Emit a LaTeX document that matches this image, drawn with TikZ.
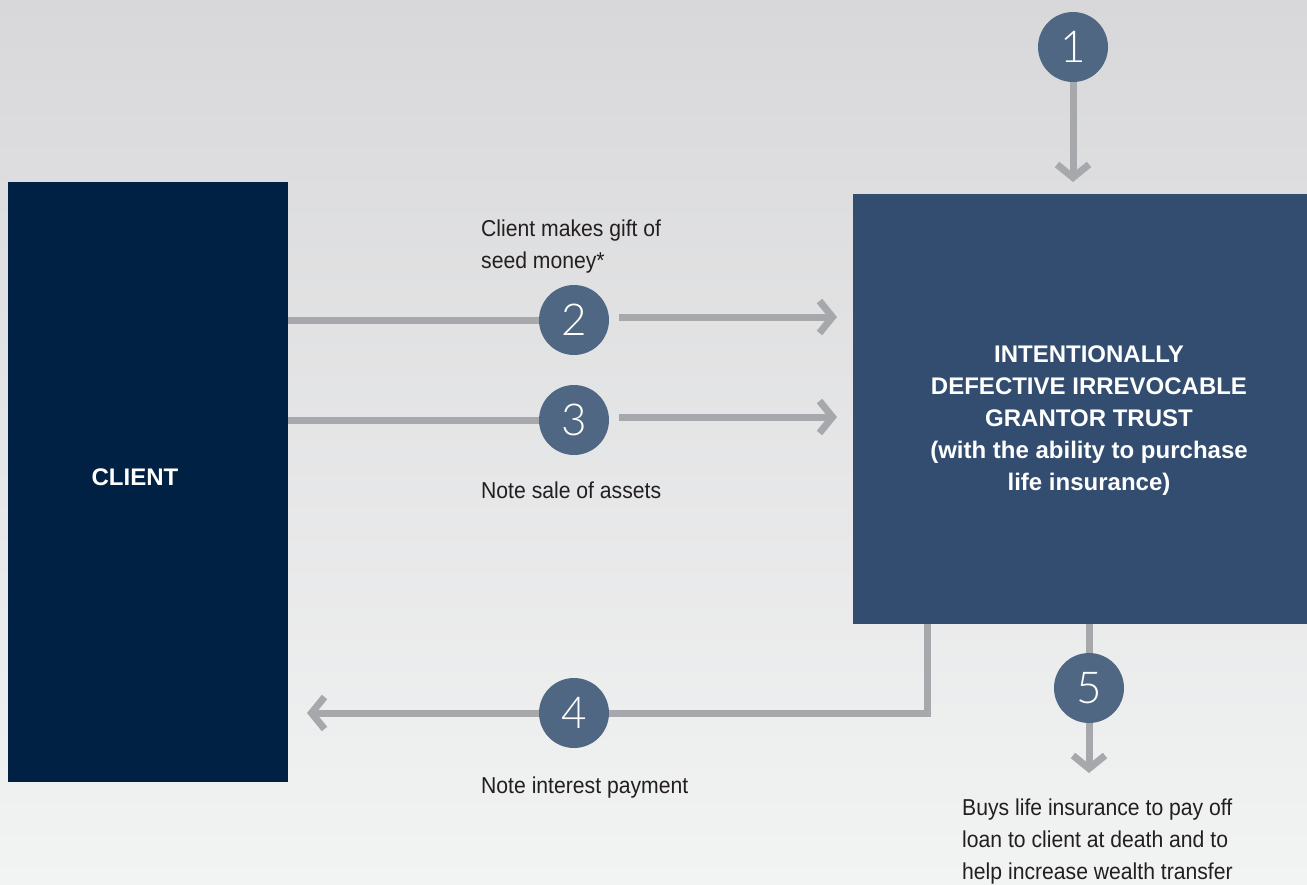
\documentclass[tikz,border=0pt]{standalone}
\usepackage{fontspec}
\setmainfont{Liberation Sans}
\newfontfamily\labelfont{Liberation Sans}[FakeStretch=0.92]
\newfontfamily\numfont{Lato Light}
\usetikzlibrary{arrows.meta}
\definecolor{clientblue}{HTML}{002044}
\definecolor{trustblue}{HTML}{324D70}
\definecolor{numblue}{HTML}{506784}
\definecolor{arrowgray}{HTML}{A7A8AB}
\definecolor{labelgray}{HTML}{231F20}
\definecolor{bgtop}{HTML}{D8D8DA}
\definecolor{bgbot}{HTML}{F2F3F3}
\begin{document}
\begin{tikzpicture}[x=1pt,y=-1pt,
  arr/.style={draw=arrowgray, line width=7pt, line join=miter},
  tipped/.style={-{Straight Barb[length=13pt,width=32pt]}},
  numc/.style={circle, fill=numblue, minimum size=70pt, inner sep=0pt, text=white,
    font=\numfont\fontsize{44}{44}\selectfont},
  boxnode/.style={inner sep=0pt, draw=none},
  boxtext/.style={inner sep=0pt, text=white, align=center,
    font=\bfseries\fontsize{24}{32}\selectfont},
  lbl/.style={text=labelgray, font=\labelfont\fontsize{23}{32}\selectfont,
    inner sep=0pt, align=left}]
\useasboundingbox (0,0) rectangle (1307,884);
\clip (0,0) rectangle (1307,884);
\shade[top color=bgtop, bottom color=bgbot] (0,0) rectangle (1307,884);

% boxes
\node[boxnode, fill=clientblue, minimum width=280pt, minimum height=600pt] (client) at (148,482) {};
\node[boxtext] (clienttext) at (135,477) {CLIENT};
\node[boxnode, fill=trustblue, minimum width=472pt, minimum height=430pt] (trust) at (1089,409) {};
\node[boxtext, anchor=base] (trusttext) at (1089,490) {INTENTIONALLY\\DEFECTIVE IRREVOCABLE\\GRANTOR TRUST\\(with the ability to purchase\\life insurance)};

% numbered circles
\node[numc] (c1) at (1073,47) {1};
\node[numc] (c2) at (574,320) {2};
\node[numc] (c3) at (574,420) {3};
\node[numc] (c4) at (574,713) {4};
\node[numc] (c5) at (1089,688) {5};

% connector coordinates
\coordinate (t1) at (1073,182);
\coordinate (t2) at (837,317);
\coordinate (t3) at (837,417);
\coordinate (k4) at (927,713);
\coordinate (t4) at (307,713);
\coordinate (t5) at (1089,773);

% connectors
\draw[arr, tipped] (c1) -- (t1);
\draw[arr] (client.east |- c2) -- (c2);
\draw[arr, tipped] ([xshift=10pt]c2.east |- t2) -- (t2);
\draw[arr] (client.east |- c3) -- (c3);
\draw[arr, tipped] ([xshift=10pt]c3.east |- t3) -- (t3);
\draw[arr] (trust.south -| k4) -- (k4) -- (c4);
\draw[arr, tipped] (c4) -- (t4);
\draw[arr] (trust.south -| c5) -- (c5);
\draw[arr, tipped] (c5) -- (t5);

% labels
\node[lbl, anchor=base west] (l2) at (481,268) {Client makes gift of\\seed money*};
\node[lbl, anchor=base west] (l3) at (481,498) {Note sale of assets};
\node[lbl, anchor=base west] (l4) at (481,793) {Note interest payment};
\node[lbl, anchor=base west] (l5) at (962,879) {Buys life insurance to pay off\\loan to client at death and to\\help increase wealth transfer};
\end{tikzpicture}
\end{document}
